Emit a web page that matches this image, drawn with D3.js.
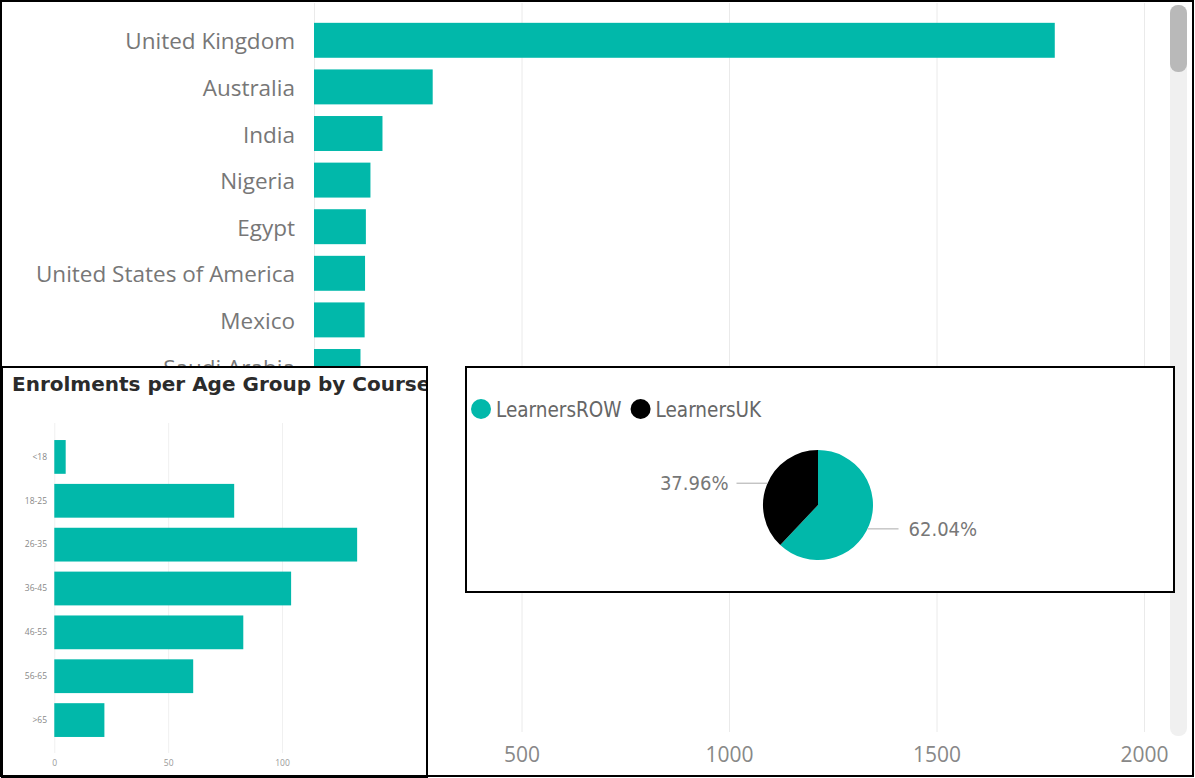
<!DOCTYPE html>
<html>
<head>
<meta charset="utf-8">
<script src="https://cdn.jsdelivr.net/npm/d3@7"></script>
<style>
  body { margin: 0; background: #fff; }
  svg { display: block; }
  .domain { display: none; }
</style>
</head>
<body>
<div id="holder"></div>
<script>
// DATA
const countries = ["United Kingdom", "Australia", "India", "Nigeria", "Egypt", "United States of America", "Mexico", "Saudi Arabia"];
const learners = [1785, 286, 165, 136, 125, 123, 122, 112];
const countryTicks = [0, 500, 1000, 1500, 2000];

const ageGroups = ["<18", "18-25", "26-35", "36-45", "46-55", "56-65", ">65"];
const ageEnrolments = [5, 79, 133, 104, 83, 61, 22];
const ageTicks = [0, 50, 100];

const pieLabels = ["LearnersROW", "LearnersUK"];
const pieShares = [62.04, 37.96];

const w = 1195;
const h = 778;
const teal = "#01B8AA";

const svg = d3.select("#holder")
    .append("svg")
    .attr("width", w)
    .attr("height", h)

// MAIN CHART: LEARNERS BY COUNTRY
const xMain = d3.scaleLinear()
    .domain([0, 2000])
    .range([314, 1144])

const yMain = d3.scaleBand()
    .domain(countries)
    .range([17, 17 + 46.6 * countries.length])
    .paddingInner(0.25)
    .paddingOuter(0.125)

// gridlines + tick labels
const gMainX = svg.append("g")
    .attr("transform", "translate(0,732)")
    .call(d3.axisBottom(xMain).tickValues(countryTicks).tickSize(-729).tickPadding(15).tickFormat(d3.format("d")))
gMainX.selectAll(".tick line").attr("stroke", "#eaeaea")
gMainX.selectAll(".tick text")
    .attr("fill", "#888")
    .style("font-family", "'Open Sans', sans-serif")
    .style("font-size", "21px")

// scrollbar
svg.append("rect")
    .attr("x", 1170).attr("y", 5).attr("width", 17).attr("height", 731)
    .attr("rx", 8).attr("fill", "#f0f0f0")
svg.append("rect")
    .attr("x", 1170).attr("y", 5).attr("width", 17).attr("height", 67)
    .attr("rx", 8).attr("fill", "#b9b9b9")

svg.selectAll(".country-bar")
    .data(countries)
    .enter()
    .append("rect")
    .attr("class", "country-bar")
    .attr("x", xMain(0))
    .attr("y", d => yMain(d))
    .attr("width", (d, i) => xMain(learners[i]) - xMain(0))
    .attr("height", yMain.bandwidth())
    .attr("fill", teal)

const gMainY = svg.append("g")
    .attr("transform", "translate(314,0)")
    .call(d3.axisLeft(yMain).tickSize(0).tickPadding(19))
gMainY.selectAll(".tick text")
    .attr("fill", "#777")
    .attr("dy", "0.4em")
    .style("font-family", "'Open Sans', sans-serif")
    .style("font-size", "22.5px")

// AGE GROUP PANEL
const panel = svg.append("g")
panel.append("rect")
    .attr("x", 2).attr("y", 367).attr("width", 425).attr("height", 410)
    .attr("fill", "#fff").attr("stroke", "#000").attr("stroke-width", 2)

svg.append("clipPath").attr("id", "panel-clip")
    .append("rect").attr("x", 3).attr("y", 368).attr("width", 423).attr("height", 408)

panel.append("text")
    .attr("clip-path", "url(#panel-clip)")
    .attr("x", 12).attr("y", 391)
    .attr("fill", "#2b2b2b")
    .style("font-family", "'DejaVu Sans', sans-serif")
    .style("font-weight", "bold")
    .style("font-size", "20px")
    .text("Enrolments per Age Group by Course")

const xAge = d3.scaleLinear()
    .domain([0, 100])
    .range([54.3, 282])

const yAge = d3.scaleBand()
    .domain(ageGroups)
    .range([435, 742])
    .paddingInner(0.23)
    .paddingOuter(0.115)

const gAgeX = panel.append("g")
    .attr("transform", "translate(0,753)")
    .call(d3.axisBottom(xAge).tickValues(ageTicks).tickSize(-330).tickPadding(7))
gAgeX.selectAll(".tick line").attr("stroke", "#f0f0f0")
gAgeX.selectAll(".tick text")
    .attr("fill", "#999")
    .style("font-family", "'Open Sans', sans-serif")
    .style("font-size", "8.5px")

panel.selectAll(".age-bar")
    .data(ageGroups)
    .enter()
    .append("rect")
    .attr("class", "age-bar")
    .attr("x", xAge(0))
    .attr("y", d => yAge(d))
    .attr("width", (d, i) => xAge(ageEnrolments[i]) - xAge(0))
    .attr("height", yAge.bandwidth())
    .attr("fill", teal)

const gAgeY = panel.append("g")
    .attr("transform", "translate(54,0)")
    .call(d3.axisLeft(yAge).tickSize(0).tickPadding(7))
gAgeY.selectAll(".tick text")
    .attr("fill", "#888")
    .style("font-family", "'Open Sans', sans-serif")
    .style("font-size", "8.5px")

// PIE PANEL
const piePanel = svg.append("g")
piePanel.append("rect")
    .attr("x", 466).attr("y", 367).attr("width", 708).attr("height", 225)
    .attr("fill", "#fff").attr("stroke", "#000").attr("stroke-width", 2)

const pieColor = d3.scaleOrdinal().domain(pieLabels).range([teal, "#000"])
const condensed = "'DejaVu Sans Condensed', 'DejaVu Sans', sans-serif"

// legend
let lx = 481
pieLabels.forEach((name, i) => {
    piePanel.append("circle")
        .attr("cx", lx).attr("cy", 409).attr("r", 10)
        .attr("fill", pieColor(name))
    const t = piePanel.append("text")
        .attr("x", lx + 15).attr("y", 417)
        .attr("fill", "#666")
        .style("font-family", condensed)
        .style("font-size", "20.5px")
        .text(name)
    lx = lx + 15 + t.node().getComputedTextLength() + 19
})

const pieData = d3.pie().sort(null)(pieShares)
const pieR = 55
const arc = d3.arc().innerRadius(0).outerRadius(pieR)
const pieG = piePanel.append("g").attr("transform", "translate(818,505)")
pieG.selectAll("path")
    .data(pieData)
    .enter()
    .append("path")
    .attr("d", arc)
    .attr("fill", (d, i) => pieColor(pieLabels[i]))

// pie labels with leader lines
pieData.forEach((d, i) => {
    const mid = (d.startAngle + d.endAngle) / 2
    const right = Math.sin(mid) > 0
    const ang = right ? 2.02 : 5.12
    const px = Math.sin(ang) * pieR
    const py = -Math.cos(ang) * pieR
    const x2 = right ? px + 31 : px - 31
    pieG.append("line")
        .attr("x1", px).attr("y1", py).attr("x2", x2).attr("y2", py)
        .attr("stroke", "#aaa")
    pieG.append("text")
        .attr("x", right ? x2 + 10 : x2 - 8)
        .attr("y", py + 7)
        .attr("text-anchor", right ? "start" : "end")
        .attr("fill", "#777")
        .style("font-family", condensed)
        .style("font-size", "20px")
        .text(d3.format(".2f")(pieShares[i]) + "%")
})

// OUTER FRAME
svg.append("rect")
    .attr("x", 1).attr("y", 1).attr("width", 1192).attr("height", 775)
    .attr("fill", "none").attr("stroke", "#000").attr("stroke-width", 2)
</script>
</body>
</html>
